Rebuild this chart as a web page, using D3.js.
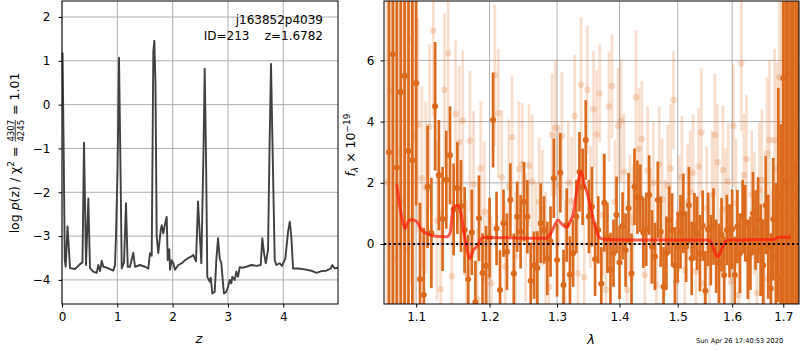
<!DOCTYPE html>
<html>
<head>
<meta charset="utf-8">
<script src="https://d3js.org/d3.v7.min.js"></script>
<style>
  body { margin: 0; background: #fff; }
  svg text { font-family: "DejaVu Sans", sans-serif; fill: #000; white-space: pre; }
  .tick text { font-size: 12px; }
  .grid line { stroke: #b0b0b0; stroke-width: 1; }
</style>
</head>
<body>
<svg id="fig" width="800" height="350"></svg>
<script>
// ---- left panel: log p(z)
const pzZ = [0, 0.01, 0.03, 0.05, 0.067, 0.10, 0.145, 0.235, 0.325, 0.37,
  0.398, 0.434, 0.476, 0.506, 0.566, 0.627, 0.656, 0.687, 0.718, 0.747,
  0.808, 0.928, 0.958, 0.976, 1.004, 1.031, 1.058, 1.08, 1.121, 1.157,
  1.188, 1.23, 1.289, 1.32, 1.41, 1.501, 1.561, 1.591, 1.622, 1.651,
  1.669, 1.69, 1.712, 1.741, 1.785, 1.803, 1.832, 1.863, 1.893, 1.911,
  1.94, 1.953, 1.984, 2.013, 2.043, 2.103, 2.165, 2.224, 2.284, 2.333,
  2.374, 2.423, 2.459, 2.519, 2.559, 2.58, 2.604, 2.627, 2.671, 2.689,
  2.718, 2.761, 2.79, 2.821, 2.852, 2.881, 2.911, 2.929, 2.971, 3.002,
  3.033, 3.061, 3.08, 3.123, 3.152, 3.183, 3.213, 3.273, 3.333, 3.423,
  3.514, 3.593, 3.622, 3.653, 3.684, 3.725, 3.752, 3.779, 3.807, 3.846,
  3.875, 3.937, 3.978, 4.038, 4.087, 4.118, 4.146, 4.177, 4.268, 4.389,
  4.508, 4.599, 4.689, 4.779, 4.859, 4.888, 4.931, 4.99];
const pzLogp = [1.15, 1.17, -1.0, -3.55, -3.7, -2.78, -3.73, -3.75, -3.64, -3.6,
  -0.87, -3.66, -2.14, -3.73, -3.81, -3.84, -3.66, -3.8, -3.56, -3.7,
  -3.72, -3.79, -3.66, -3.0, -1.5, 1.07, -1.5, -3.74, -3.6, -2.25,
  -3.7, -3.7, -3.38, -3.7, -3.66, -3.7, -3.74, -3.39, -3.45, 1.2,
  1.46, 0.5, -3.01, -3.39, -2.86, -2.75, -2.94, -2.72, -2.56, -3.55,
  -3.3, -3.77, -3.55, -3.62, -3.77, -3.66, -3.62, -3.55, -3.5, -3.47,
  -3.43, -3.58, -2.21, -3.62, -1.0, 0.82, -1.2, -3.93, -4.04, -3.95,
  -4.31, -4.27, -3.55, -3.05, -3.51, -3.62, -4.08, -4.31, -4.27, -4.16,
  -4.0, -4.08, -3.93, -4.0, -3.81, -3.93, -3.71, -3.72, -3.7, -3.66,
  -3.68, -3.66, -3.05, -3.39, -3.62, -3.32, -1.0, 0.93, -1.0, -3.55,
  -3.66, -3.62, -3.68, -3.51, -2.9, -2.67, -3.01, -3.74, -3.74, -3.76,
  -3.79, -3.84, -3.8, -3.79, -3.74, -3.66, -3.74, -3.72];
const zTicks = [0, 1, 2, 3, 4];
const logpTicks = [-4, -3, -2, -1, 0, 1, 2];

// ---- right panel: spectrum (flux in 1e-19)
const darkWave = [1.065, 1.070, 1.075, 1.080, 1.085, 1.090, 1.095, 1.100,
  1.105, 1.110, 1.115, 1.120, 1.125, 1.130, 1.135, 1.140, 1.145, 1.150,
  1.155, 1.160, 1.165, 1.170, 1.175, 1.180, 1.185, 1.190, 1.195, 1.200,
  1.205, 1.210, 1.215, 1.220, 1.225, 1.230, 1.235, 1.240, 1.245, 1.250,
  1.255, 1.260, 1.265, 1.270, 1.275, 1.280, 1.285, 1.290, 1.295, 1.300,
  1.305, 1.310, 1.315, 1.320, 1.325, 1.330, 1.335, 1.340, 1.345, 1.350,
  1.355, 1.360, 1.365, 1.370, 1.375, 1.380, 1.385, 1.390, 1.395, 1.400,
  1.405, 1.410, 1.415, 1.420, 1.425, 1.430, 1.435, 1.440, 1.445, 1.450,
  1.455, 1.460, 1.465, 1.470, 1.475, 1.480, 1.485, 1.490, 1.495, 1.500,
  1.505, 1.510, 1.515, 1.520, 1.525, 1.530, 1.535, 1.540, 1.545, 1.550,
  1.555, 1.560, 1.565, 1.570, 1.575, 1.580, 1.585, 1.590, 1.595, 1.600,
  1.605, 1.610, 1.615, 1.620, 1.625, 1.630, 1.635, 1.640, 1.645, 1.650,
  1.655, 1.660, 1.665, 1.670, 1.675, 1.680, 1.685, 1.690, 1.695, 1.700,
  1.705, 1.710, 1.715, 1.720, 1.725, 1.730];
const darkFlux = [3.0, 6.2, 2.5, 4.97, 5.5, 3.04, 2.74, 5.26,
  -1.15, -1.67, 1.87, 0.36, 4.5, 2.25, 0.82, 2.1, 2.9, 1.13,
  1.83, 1.24, 0.46, -1.15, 0.38, -1.9, 0.84, -0.95, -0.71, 0.21,
  4.05, 0.51, -1.5, 0.68, -0.25, 1.44, -0.96, 0.89, 0.4, 1.38,
  0.89, -1.2, -0.69, -0.78, 0.68, 0.46, -0.47, 0.08, 2.15, -0.52,
  2.33, -1.34, 0.62, -1.0, -0.3, 0.9, 2.36, 1.87, 3.4, 0.9,
  1.22, -0.5, 0.46, -1.3, 1.35, 0.2, -0.83, -0.3, 0.95, -0.6,
  0.59, -0.2, 1.17, -0.96, 1.87, 1.53, 1.5, 0.37, 0.48, 1.6,
  -0.09, -0.41, 1.44, 0.4, -1.4, -0.3, 0.78, 0.46, -0.7, -0.11,
  0.4, 1.0, -0.09, 1.27, -0.47, 0.57, 0.35, -0.3, 0.6, -1.53,
  0.48, -0.2, 0.57, -0.4, -0.63, 0.3, -1.01, 0.46, 0.1, 0.48,
  -1.01, 0.57, -0.3, 0.9, 0.68, -0.5, -0.3, 1.0, 0.46, 0.78,
  -0.2, -0.69, 1.27, -0.09, -1.45, 0.81, -0.41, 1.6, -1.09, 5.42,
  2.0, 0.22, 3.0, 1.6, 2.5, 1.0];
const darkErr = [9, 9, 9, 9, 9, 9, 6, 4,
  2.5, 2.2, 2.0, 1.8, 2.1, 1.8, 1.7, 1.6, 1.6, 1.5,
  1.5, 1.5, 1.4, 1.45, 1.4, 1.35, 1.4, 1.3, 1.3, 1.3,
  1.55, 1.2, 1.3, 1.1, 1.25, 1.2, 1.3, 1.15, 1.2, 1.3,
  1.2, 1.25, 1.1, 1.2, 1.3, 1.1, 1.2, 1.15, 1.3, 1.2,
  1.3, 1.15, 1.2, 1.25, 1.1, 1.2, 1.3, 1.25, 1.3, 1.2,
  1.3, 1.2, 1.1, 1.2, 1.6, 1.15, 1.2, 1.1, 1.25, 1.2,
  1.1, 1.2, 1.15, 1.3, 1.25, 1.2, 1.1, 1.15, 1.2, 1.3,
  1.2, 1.1, 1.25, 1.15, 1.3, 1.2, 1.1, 1.2, 1.25, 1.15,
  1.2, 1.3, 1.15, 1.25, 1.2, 1.1, 1.2, 1.25, 1.15, 1.3,
  1.2, 1.15, 1.25, 1.2, 1.3, 1.2, 1.25, 1.15, 1.2, 1.3,
  1.25, 1.2, 1.3, 1.2, 1.25, 1.3, 1.2, 1.35, 1.3, 1.4,
  1.5, 1.5, 1.6, 1.7, 1.8, 2.0, 2.4, 3.5, 5, 9,
  9, 9, 9, 9, 9, 9];

const lightWave = [1.0625, 1.0675, 1.0725, 1.0775, 1.0825, 1.0875, 1.0925, 1.0975,
  1.1025, 1.1075, 1.1125, 1.1175, 1.1225, 1.1275, 1.1325, 1.1375, 1.1425, 1.1475,
  1.1525, 1.1575, 1.1625, 1.1675, 1.1725, 1.1775, 1.1825, 1.1875, 1.1925, 1.1975,
  1.2025, 1.2075, 1.2125, 1.2175, 1.2225, 1.2275, 1.2325, 1.2375, 1.2425, 1.2475,
  1.2525, 1.2575, 1.2625, 1.2675, 1.2725, 1.2775, 1.2825, 1.2875, 1.2925, 1.2975,
  1.3025, 1.3075, 1.3125, 1.3175, 1.3225, 1.3275, 1.3325, 1.3375, 1.3425, 1.3475,
  1.3525, 1.3575, 1.3625, 1.3675, 1.3725, 1.3775, 1.3825, 1.3875, 1.3925, 1.3975,
  1.4025, 1.4075, 1.4125, 1.4175, 1.4225, 1.4275, 1.4325, 1.4375, 1.4425, 1.4475,
  1.4525, 1.4575, 1.4625, 1.4675, 1.4725, 1.4775, 1.4825, 1.4875, 1.4925, 1.4975,
  1.5025, 1.5075, 1.5125, 1.5175, 1.5225, 1.5275, 1.5325, 1.5375, 1.5425, 1.5475,
  1.5525, 1.5575, 1.5625, 1.5675, 1.5725, 1.5775, 1.5825, 1.5875, 1.5925, 1.5975,
  1.6025, 1.6075, 1.6125, 1.6175, 1.6225, 1.6275, 1.6325, 1.6375, 1.6425, 1.6475,
  1.6525, 1.6575, 1.6625, 1.6675, 1.6725, 1.6775, 1.6825, 1.6875, 1.6925, 1.6975,
  1.7025, 1.7075, 1.7125, 1.7175, 1.7225, 1.7275];
const lightFlux = [2.0, 5.0, -0.5, 3.0, 1.38, -0.2, 6.7, 3.5,
  3.89, 2.15, 1.85, 3.83, 6.97, 0.76, -1.48, 5.03, 6.24, -1.05,
  4.25, 3.32, 4.03, -0.96, 3.37, 1.95, -1.81, 2.47, 1.05, -1.07,
  -1.28, 5.52, 4.27, 2.18, -0.74, 1.87, 3.49, -0.41, 2.45, 2.61,
  0.2, 2.56, 2.04, 0.0, 1.38, 1.17, -0.3, -1.41, 3.56, 3.8,
  1.9, 3.53, -0.47, 2.0, 1.4, 4.18, -0.96, 5.2, -1.09, 5.03,
  1.2, 4.4, 3.58, 4.92, 0.95, -1.5, 4.49, 5.16, 1.38, 3.86,
  4.03, 2.36, -1.5, 0.9, 0.7, 4.79, 3.1, 3.43, -1.01, 2.4,
  0.6, 2.0, -1.34, 2.6, 1.46, 0.2, 1.9, 2.47, 4.7, -1.23,
  1.0, 2.18, -0.85, 1.38, 1.71, 2.33, -0.9, 2.53, 3.64, -1.28,
  1.17, -0.41, 1.6, 3.56, 2.67, -0.85, 2.42, 1.13, 2.04, -1.23,
  3.86, 1.33, -1.67, 5.9, 2.25, 2.77, -1.34, 1.6, 1.0, -1.6,
  1.76, 2.09, -1.12, 2.96, 3.4, -1.01, 3.38, 2.44, 5.45, 1.05,
  7.7, -1.6, 3.0, 0.5, 4.0, 2.0];
const lightErr = [9, 9, 9, 9, 9, 9, 8, 6,
  3.5, 3.0, 2.8, 2.7, 2.8, 2.6, 2.6, 2.5, 2.6, 2.5,
  2.4, 2.5, 2.3, 2.4, 2.3, 2.4, 2.3, 2.2, 2.3, 2.2,
  2.2, 2.3, 2.1, 2.2, 2.1, 2.2, 2.0, 2.1, 2.2, 2.0,
  2.1, 2.0, 2.2, 2.0, 2.1, 1.9, 2.0, 2.1, 2.0, 2.2,
  2.0, 2.1, 1.9, 2.0, 2.1, 2.0, 1.9, 2.2, 2.0, 2.1,
  2.0, 1.9, 2.1, 1.6, 2.0, 1.9, 1.8, 1.7, 2.0, 1.9,
  2.0, 1.9, 2.1, 2.0, 1.9, 2.2, 2.0, 1.9, 2.0, 2.1,
  1.9, 2.0, 2.1, 1.9, 2.0, 1.9, 2.0, 2.1, 1.6, 2.0,
  1.9, 2.0, 2.1, 1.9, 2.0, 1.9, 2.0, 1.9, 2.1, 2.0,
  2.0, 1.9, 2.1, 2.0, 1.9, 2.0, 2.1, 2.0, 1.9, 2.1,
  2.0, 2.1, 1.9, 2.2, 2.0, 2.1, 1.9, 2.1, 2.0, 2.2,
  2.2, 2.3, 2.3, 2.5, 2.6, 2.8, 3.0, 3.5, 5, 9,
  9, 9, 9, 9, 9, 9];

const modelWave = [1.0750, 1.0791, 1.0829, 1.0855, 1.0894, 1.0942, 1.1007, 1.1072, 1.1160, 1.1226,
  1.1405, 1.1449, 1.1494, 1.1549, 1.1596, 1.1655, 1.1724, 1.1770, 1.1818, 1.1902,
  1.2837, 1.2918, 1.3013, 1.3090, 1.3147, 1.3202, 1.3248, 1.3312, 1.3375, 1.3423,
  1.3487, 1.3551, 1.3660, 1.3742, 1.4515, 1.5492, 1.5566, 1.5640, 1.5727, 1.5808,
  1.5883, 1.5940, 1.6814, 1.6916, 1.7150];
const modelFlux = [1.95, 1.2, 0.7, 0.51, 0.72, 0.8, 0.73, 0.46, 0.32, 0.26,
  0.24, 0.35, 1.17, 1.27, 1.05, 0.19, -0.47, -0.2, -0.09, 0.21,
  0.19, 0.4, 0.78, 0.62, 0.55, 0.73, 0.95, 1.8, 2.37, 2.0,
  1.55, 1.0, 0.24, 0.15, 0.13, 0.13, 0.12, -0.1, -0.42, -0.15,
  0.1, 0.13, 0.15, 0.22, 0.22];
const waveTicks = [1.1, 1.2, 1.3, 1.4, 1.5, 1.6, 1.7];
const fluxTicks = [0, 2, 4, 6];

const orange = "#dc6a1c";
const svg = d3.select("#fig");

// ========== left panel ==========
const L = {x0: 62, x1: 338, y0: 1, y1: 304};
const xz = d3.scaleLinear().domain([0, 4.99]).range([L.x0, L.x1]);
const yp = d3.scaleLinear().domain([-4.55, 2.365]).range([L.y1, L.y0]);

const gl = svg.append("g");
gl.append("g").attr("class", "grid").selectAll("line").data(zTicks).join("line")
  .attr("x1", d => xz(d)).attr("x2", d => xz(d)).attr("y1", L.y0).attr("y2", L.y1);
gl.append("g").attr("class", "grid").selectAll("line").data(logpTicks).join("line")
  .attr("y1", d => yp(d)).attr("y2", d => yp(d)).attr("x1", L.x0).attr("x2", L.x1);

const pz = pzZ.map((z, i) => [z, pzLogp[i]]);
gl.append("path").datum(pz)
  .attr("fill", "none").attr("stroke", "#404040").attr("stroke-width", 1.9)
  .attr("stroke-linejoin", "round")
  .attr("d", d3.line().x(d => xz(d[0])).y(d => yp(d[1])));

gl.append("g").attr("transform", `translate(0,${L.y1})`)
  .call(d3.axisBottom(xz).tickValues(zTicks).tickSize(3.5).tickPadding(4.5).tickFormat(d3.format("d")))
  .call(g => g.select(".domain").remove());
gl.append("g").attr("transform", `translate(${L.x0},0)`)
  .call(d3.axisLeft(yp).tickValues(logpTicks).tickSize(3.5).tickPadding(8).tickFormat(d3.format("d")))
  .call(g => g.select(".domain").remove());
gl.append("rect").attr("x", L.x0).attr("y", L.y0).attr("width", L.x1 - L.x0).attr("height", L.y1 - L.y0)
  .attr("fill", "none").attr("stroke", "#000").attr("stroke-width", 1);

gl.append("text").attr("x", 323).attr("y", 24).attr("text-anchor", "end")
  .style("font-size", "12px").text("j163852p4039");
gl.append("text").attr("x", 323).attr("y", 39.5).attr("text-anchor", "end")
  .style("font-size", "12px").text("ID=213    z=1.6782");

gl.append("text").attr("x", 199).attr("y", 343).attr("text-anchor", "middle")
  .style("font-size", "13px").style("font-style", "italic").text("z");

// y label with stacked fraction
{
  const g = svg.append("g").attr("transform", "translate(19,153) rotate(-90)");
  const inner = g.append("g");
  const t1 = inner.append("text").style("font-size", "12.5px");
  t1.append("tspan").text("log ");
  t1.append("tspan").style("font-style", "italic").text("p");
  t1.append("tspan").text("(z) / χ");
  t1.append("tspan").attr("dy", -5).style("font-size", "9px").text("2");
  t1.append("tspan").attr("dy", 5).text(" = ");
  const w1 = t1.node().getComputedTextLength();
  const num = inner.append("text").attr("x", w1 + 1).attr("y", -5.5).style("font-size", "8.5px").text("4307");
  const den = inner.append("text").attr("x", w1 + 1).attr("y", 4.5).style("font-size", "8.5px").text("4245");
  const wf = Math.max(num.node().getComputedTextLength(), den.node().getComputedTextLength());
  inner.append("line").attr("x1", w1 + 1).attr("x2", w1 + 1 + wf).attr("y1", -3.8).attr("y2", -3.8)
    .attr("stroke", "#000").attr("stroke-width", 0.8);
  const t2 = inner.append("text").attr("x", w1 + wf + 2).style("font-size", "12.5px").text(" = 1.01");
  const W = w1 + wf + 2 + t2.node().getComputedTextLength();
  inner.attr("transform", `translate(${-W / 2},0)`);
}

// ========== right panel ==========
const R = {x0: 384, x1: 799, y0: 1, y1: 304};
const xw = d3.scaleLog().domain([1.0588, 1.732]).range([R.x0, R.x1]);
const yf = d3.scaleLinear().domain([-1.96, 7.94]).range([R.y1, R.y0]);

const gr = svg.append("g");
svg.append("defs").append("clipPath").attr("id", "clipR").append("rect")
  .attr("x", R.x0).attr("y", R.y0).attr("width", R.x1 - R.x0).attr("height", R.y1 - R.y0);

gr.append("g").attr("class", "grid").selectAll("line").data(waveTicks).join("line")
  .attr("x1", d => xw(d)).attr("x2", d => xw(d)).attr("y1", R.y0).attr("y2", R.y1);
gr.append("g").attr("class", "grid").selectAll("line").data(fluxTicks).join("line")
  .attr("y1", d => yf(d)).attr("y2", d => yf(d)).attr("x1", R.x0).attr("x2", R.x1);

const data = gr.append("g").attr("clip-path", "url(#clipR)");

const light = lightWave.map((w, i) => ({w, f: lightFlux[i], e: lightErr[i]}));
const dark = darkWave.map((w, i) => ({w, f: darkFlux[i], e: darkErr[i]}));

const gL = data.append("g").attr("opacity", 1);
gL.selectAll("line").data(light).join("line")
  .attr("x1", d => xw(d.w)).attr("x2", d => xw(d.w))
  .attr("y1", d => yf(d.f - d.e)).attr("y2", d => yf(d.f + d.e))
  .attr("stroke", orange).attr("stroke-opacity", 0.22).attr("stroke-width", 2.7);
gL.selectAll("circle").data(light).join("circle")
  .attr("cx", d => xw(d.w)).attr("cy", d => yf(d.f)).attr("r", 3.3)
  .attr("fill", orange).attr("fill-opacity", 0.22);

const gD = data.append("g");
gD.selectAll("line").data(dark).join("line")
  .attr("x1", d => xw(d.w)).attr("x2", d => xw(d.w))
  .attr("y1", d => yf(d.f - d.e)).attr("y2", d => yf(d.f + d.e))
  .attr("stroke", orange).attr("stroke-width", 2.7);
gD.selectAll("circle").data(dark).join("circle")
  .attr("cx", d => xw(d.w)).attr("cy", d => yf(d.f)).attr("r", 3)
  .attr("fill", orange);

const model = modelWave.map((w, i) => [w, modelFlux[i]]);
data.append("path").datum(model)
  .attr("fill", "none").attr("stroke", "#ff1a0a").attr("stroke-opacity", 0.7).attr("stroke-width", 3)
  .attr("stroke-linejoin", "round")
  .attr("d", d3.line().curve(d3.curveMonotoneX).x(d => xw(d[0])).y(d => yf(d[1])));

data.append("line").attr("x1", R.x0).attr("x2", R.x1).attr("y1", yf(0)).attr("y2", yf(0))
  .attr("stroke", "#000").attr("stroke-width", 2).attr("stroke-dasharray", "2.2,2.6");

gr.append("g").attr("transform", `translate(0,${R.y1})`)
  .call(d3.axisBottom(xw).tickValues(waveTicks).tickSize(3.5).tickPadding(4.5).tickFormat(d3.format(".1f")))
  .call(g => g.select(".domain").remove());
gr.append("g").attr("transform", `translate(${R.x0},0)`)
  .call(d3.axisLeft(yf).tickValues(fluxTicks).tickSize(3.5).tickPadding(6).tickFormat(d3.format("d")))
  .call(g => g.select(".domain").remove());
gr.append("rect").attr("x", R.x0).attr("y", R.y0).attr("width", R.x1 - R.x0).attr("height", R.y1 - R.y0)
  .attr("fill", "none").attr("stroke", "#000").attr("stroke-width", 1);

gr.append("text").attr("x", 591).attr("y", 344).attr("text-anchor", "middle")
  .style("font-size", "13px").style("font-style", "italic").text("λ");

{
  const g = svg.append("g").attr("transform", "translate(355,145) rotate(-90)");
  const t = g.append("text").attr("text-anchor", "middle").style("font-size", "12.5px");
  t.append("tspan").style("font-style", "italic").text("f");
  t.append("tspan").attr("dy", 3).style("font-size", "9px").style("font-style", "italic").text("λ");
  t.append("tspan").attr("dy", -3).text(" × 10");
  t.append("tspan").attr("dy", -5).style("font-size", "9px").text("−19");
}

svg.append("text").attr("x", 696).attr("y", 343).style("font-size", "6.6px")
  .text("Sun Apr 26 17:40:53 2020");
</script>
</body>
</html>
